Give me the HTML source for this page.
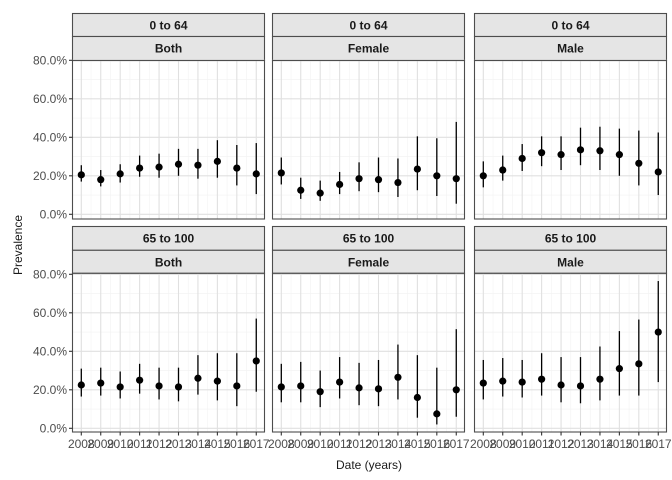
<!DOCTYPE html>
<html><head><meta charset="utf-8"><style>body{margin:0;background:#fff}svg{display:block;font-family:"Liberation Sans",sans-serif}</style></head>
<body><svg id="s" width="672" height="480" xmlns="http://www.w3.org/2000/svg"></svg>
<script>
var S=document.getElementById('s'),h='';
var cols=[72.5,272.5,474.5],W=192;
var rows=[{st:13.5,mid:36.5,top:60.5,bot:219,z:214.3,top1:'0 to 64'},{st:226.5,mid:250.3,top:273.3,bot:432,z:428.3,top1:'65 to 100'}];
var sex=['Both','Female','Male'];
var D=[[
[[20.5,17,25.5],[18,14.5,23],[21,16.5,26],[24,19.5,30.5],[24.5,19,31.5],[26,20,34],[25.5,18.5,34],[27.5,19,38.5],[24,15,36],[21,10.5,37]],
[[21.5,15.5,29.5],[12.5,8,19],[11,7,17.5],[15.5,10.5,22],[18.5,12,27],[18,11.5,29.5],[16.5,9,29],[23.5,12.5,40.5],[20,9.5,39.5],[18.5,5.5,48]],
[[20,14,27.5],[23,17.5,30.5],[29,22.5,36.5],[32,25,40.5],[31,23,40.5],[33.5,25.5,45],[33,23,45.5],[31,20,44.5],[26.5,15,43.5],[22,10,42.5]]],[
[[22.5,16.5,31],[23.5,17,31.5],[21.5,15.5,29.5],[25,18,33.5],[22,15,31.5],[21.5,14,31.5],[26,17.5,38],[24.5,14.5,39],[22,11.5,39],[35,19,57]],
[[21.5,13.5,33.5],[22,13.5,34.5],[19,11,30],[24,15.5,37],[21,12,34],[20.5,11.5,35.5],[26.5,15,43.5],[16,5.5,38],[7.5,2,31.5],[20,6,51.5]],
[[23.5,15,35.5],[24.5,16.5,36.5],[24,16,35.5],[25.5,17,39],[22.5,13.5,37],[22,13,37],[25.5,14.5,42.5],[31,17,50.5],[33.5,17,56.5],[50,24,76.5]]]];
var k=1.925;
rows.forEach(function(r,ri){
 cols.forEach(function(c,ci){
  var X=function(i){return c+8.8+i*19.44};
  var Y=function(v){return r.z-v*k};
  // strips
  h+='<rect x="'+c+'" y="'+r.st+'" width="'+W+'" height="'+(r.mid-r.st)+'" fill="#e5e5e5" stroke="#4d4d4d" stroke-width="1.1"/>';
  h+='<rect x="'+c+'" y="'+r.mid+'" width="'+W+'" height="'+(r.top-r.mid)+'" fill="#e5e5e5" stroke="#4d4d4d" stroke-width="1.1"/>';
  h+='<text x="'+(c+W/2)+'" y="'+(r.st+16)+'" font-size="12" font-weight="bold" fill="#1a1a1a" text-anchor="middle">'+r.top1+'</text>';
  h+='<text x="'+(c+W/2)+'" y="'+(r.mid+16)+'" font-size="12" font-weight="bold" fill="#1a1a1a" text-anchor="middle">'+sex[ci]+'</text>';
  // grid
  for(var v=10;v<=70;v+=20)h+='<line x1="'+c+'" x2="'+(c+W)+'" y1="'+Y(v)+'" y2="'+Y(v)+'" stroke="#f2f2f2" stroke-width="0.6"/>';
  for(var i=0;i<=10;i++){var xm=X(i)-9.72;if(xm>c&&xm<c+W)h+='<line x1="'+xm+'" x2="'+xm+'" y1="'+r.top+'" y2="'+r.bot+'" stroke="#f2f2f2" stroke-width="0.6"/>';}
  for(var v=0;v<=80;v+=20)h+='<line x1="'+c+'" x2="'+(c+W)+'" y1="'+Y(v)+'" y2="'+Y(v)+'" stroke="#e0e0e0" stroke-width="1.1"/>';
  for(var i=0;i<10;i++)h+='<line x1="'+X(i)+'" x2="'+X(i)+'" y1="'+r.top+'" y2="'+r.bot+'" stroke="#e0e0e0" stroke-width="1.1"/>';
  // data
  D[ri][ci].forEach(function(d,i){
   h+='<line x1="'+X(i)+'" x2="'+X(i)+'" y1="'+Y(d[1])+'" y2="'+Y(d[2])+'" stroke="#000" stroke-width="1.3"/>';
   h+='<circle cx="'+X(i)+'" cy="'+Y(d[0])+'" r="3.6" fill="#000"/>';
  });
  h+='<rect x="'+c+'" y="'+r.top+'" width="'+W+'" height="'+(r.bot-r.top)+'" fill="none" stroke="#4d4d4d" stroke-width="1.1"/>';
  if(ri==1)for(var i=0;i<10;i++){h+='<line x1="'+X(i)+'" x2="'+X(i)+'" y1="'+r.bot+'" y2="'+(r.bot+3.5)+'" stroke="#333" stroke-width="1.1"/>';
   h+='<text x="'+X(i)+'" y="'+(r.bot+16)+'" font-size="12" fill="#4d4d4d" text-anchor="middle">'+(2008+i)+'</text>';}
  if(ci==0)for(var v=0;v<=80;v+=20){h+='<line x1="'+(c-3.5)+'" x2="'+c+'" y1="'+Y(v)+'" y2="'+Y(v)+'" stroke="#333" stroke-width="1.1"/>';
   h+='<text x="'+(c-5.5)+'" y="'+(Y(v)+4.3)+'" font-size="12" fill="#4d4d4d" text-anchor="end">'+v+'.0%</text>';}
 });
});
h+='<text x="369" y="469" font-size="12" fill="#1a1a1a" text-anchor="middle">Date (years)</text>';
h+='<text transform="translate(22,245) rotate(-90)" font-size="12" fill="#1a1a1a" text-anchor="middle">Prevalence</text>';
S.innerHTML=h;
</script></body></html>
